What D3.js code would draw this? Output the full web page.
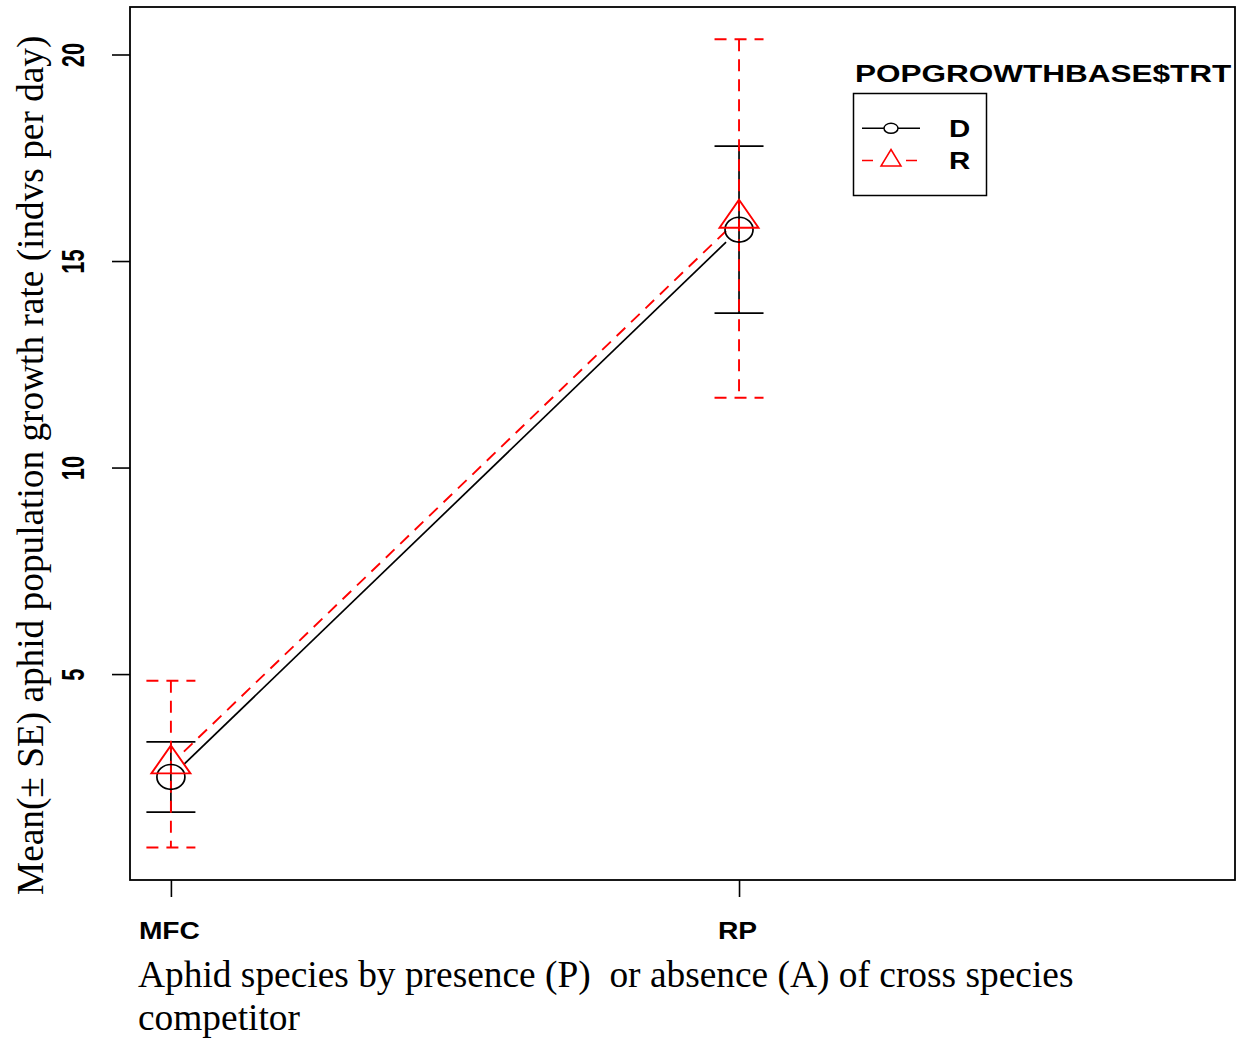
<!DOCTYPE html>
<html>
<head>
<meta charset="utf-8">
<script src="https://cdn.jsdelivr.net/npm/d3@7"></script>
<style>
  body { margin: 0; background: #fff; }
  .sans { font-family: "Liberation Sans", Arial, sans-serif; font-weight: bold; }
  .serif { font-family: "Liberation Serif", "Times New Roman", serif; }
</style>
</head>
<body>
<svg id="chart" width="1236" height="1039"></svg>
<script>
// data
const groups = ['MFC', 'RP'];
const seriesNames = ['D', 'R'];
const meansD = [2.51, 15.76];
const seD = [0.85, 2.02];
const meansR = [2.82, 16.03];
const seR = [2.02, 4.34];
const yTicks = [5, 10, 15, 20];

const yLabel = 'Mean(\u00b1 SE) aphid population growth rate (indvs per day)';
const xLabel1 = 'Aphid species by presence (P)  or absence (A) of cross species';
const xLabel2 = 'competitor';
const legendTitle = 'POPGROWTHBASE$TRT';

const plot = { left: 130, right: 1235, top: 7, bottom: 880 };

const svg = d3.select('#chart');

const xScale = d3.scaleLinear()
  .domain([0.928, 2.873])
  .range([plot.left, plot.right]);
const yScale = d3.scaleLinear()
  .domain([0, 21.15])
  .range([880.6, plot.top]);

const series = [
  { name: 'D', means: meansD, se: seD, color: '#000', dash: null, width: 1.7 },
  { name: 'R', means: meansR, se: seR, color: '#ff0000', dash: '12,8', width: 1.9 }
];

// axes
const yAxisG = svg.append('g')
  .attr('transform', `translate(${plot.left},0)`)
  .call(d3.axisLeft(yScale).tickValues(yTicks).tickSize(18).tickFormat(d3.format('d')));
yAxisG.select('.domain').remove();
yAxisG.selectAll('line').attr('stroke', '#000').attr('stroke-width', 1.6);
yAxisG.selectAll('text')
  .attr('class', 'sans')
  .attr('x', null).attr('dy', null)
  .attr('fill', '#000')
  .style('font-size', '22px')
  .attr('text-anchor', 'middle')
  .attr('transform', 'translate(-46,0) scale(1.43,1) rotate(-90)');

const xAxisG = svg.append('g')
  .attr('transform', `translate(0,${plot.bottom})`)
  .call(d3.axisBottom(xScale).tickValues([1, 2]).tickSize(17).tickFormat(d => groups[d - 1]));
xAxisG.select('.domain').remove();
xAxisG.selectAll('line').attr('stroke', '#000').attr('stroke-width', 1.6);
xAxisG.selectAll('text')
  .attr('class', 'sans')
  .attr('y', null).attr('dy', null)
  .attr('fill', '#000')
  .style('font-size', '23.5px')
  .attr('text-anchor', 'middle')
  .attr('transform', 'translate(-2,58.5) scale(1.2,1)');

svg.append('rect')
  .attr('x', plot.left).attr('y', plot.top)
  .attr('width', plot.right - plot.left).attr('height', plot.bottom - plot.top)
  .attr('fill', 'none').attr('stroke', '#000').attr('stroke-width', 1.8);

// axis titles
svg.append('text')
  .attr('class', 'serif')
  .attr('transform', 'translate(43,895) rotate(-90)')
  .style('font-size', '37.3px')
  .text(yLabel);

svg.append('text')
  .attr('class', 'serif')
  .attr('x', 138).attr('y', 987)
  .style('font-size', '37.4px')
  .style('white-space', 'pre')
  .text(xLabel1);
svg.append('text')
  .attr('class', 'serif')
  .attr('x', 138).attr('y', 1030)
  .style('font-size', '37.4px')
  .text(xLabel2);

// connecting lines with gaps around the points
const gap = 18;
series.forEach(s => {
  const x1 = xScale(1), y1 = yScale(s.means[0]);
  const x2 = xScale(2), y2 = yScale(s.means[1]);
  const len = Math.hypot(x2 - x1, y2 - y1);
  const ux = (x2 - x1) / len, uy = (y2 - y1) / len;
  svg.append('line')
    .attr('x1', x1 + ux * gap).attr('y1', y1 + uy * gap)
    .attr('x2', x2 - ux * gap).attr('y2', y2 - uy * gap)
    .attr('stroke', s.color).attr('stroke-width', s.width)
    .attr('stroke-dasharray', s.dash);
});

// error bars and symbols
const capHalf = 24.5;
series.forEach(s => {
  const g = svg.append('g')
    .attr('stroke', s.color).attr('stroke-width', s.width)
    .attr('stroke-dasharray', s.dash).attr('fill', 'none');
  s.means.forEach((m, i) => {
    const cx = xScale(i + 1);
    const top = yScale(m + s.se[i]);
    const bot = yScale(m - s.se[i]);
    g.append('line').attr('x1', cx).attr('x2', cx).attr('y1', top).attr('y2', bot);
    g.append('line').attr('x1', cx - capHalf).attr('x2', cx + capHalf).attr('y1', top).attr('y2', top);
    g.append('line').attr('x1', cx - capHalf).attr('x2', cx + capHalf).attr('y1', bot).attr('y2', bot);
  });
});

series.forEach(s => {
  s.means.forEach((m, i) => {
    const cx = xScale(i + 1), cy = yScale(m);
    if (s.name === 'D') {
      svg.append('ellipse')
        .attr('cx', cx).attr('cy', cy).attr('rx', 14).attr('ry', 12.4)
        .attr('fill', 'none').attr('stroke', s.color).attr('stroke-width', 1.7);
    } else {
      svg.append('path')
        .attr('d', `M${cx},${cy - 18.7}L${cx + 19.5},${cy + 9.3}L${cx - 19.5},${cy + 9.3}Z`)
        .attr('fill', 'none').attr('stroke', s.color).attr('stroke-width', 1.9);
    }
  });
});

// legend
svg.append('text')
  .attr('class', 'sans')
  .attr('transform', 'translate(855,82) scale(1.37,1)')
  .style('font-size', '23px')
  .text(legendTitle);

svg.append('rect')
  .attr('x', 853.5).attr('y', 93.5).attr('width', 133).attr('height', 102)
  .attr('fill', 'none').attr('stroke', '#000').attr('stroke-width', 1.5);

const legY = [128.3, 160.5];
seriesNames.forEach((name, i) => {
  const s = series[i];
  const ly = legY[i];
  if (name === 'D') {
    svg.append('line').attr('x1', 862).attr('x2', 920).attr('y1', ly).attr('y2', ly)
      .attr('stroke', s.color).attr('stroke-width', 1.5);
    svg.append('ellipse').attr('cx', 891).attr('cy', ly).attr('rx', 7).attr('ry', 5)
      .attr('fill', '#fff').attr('stroke', s.color).attr('stroke-width', 1.5);
  } else {
    [[862, 873], [906, 917]].forEach(seg => {
      svg.append('line').attr('x1', seg[0]).attr('x2', seg[1]).attr('y1', ly).attr('y2', ly)
        .attr('stroke', s.color).attr('stroke-width', 1.5);
    });
    svg.append('path')
      .attr('d', `M891,${ly - 11}L901,${ly + 5.5}L881,${ly + 5.5}Z`)
      .attr('fill', 'none').attr('stroke', s.color).attr('stroke-width', 1.5);
  }
  svg.append('text')
    .attr('class', 'sans')
    .attr('transform', `translate(949,${ly + 8.5}) scale(1.28,1)`)
    .style('font-size', '23px')
    .text(name);
});
</script>
</body>
</html>
